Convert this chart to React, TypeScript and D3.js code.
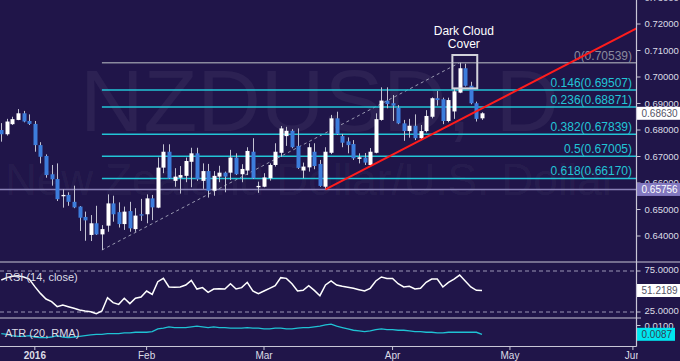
import React from "react";
import * as d3 from "d3";

// ---------- data ----------
const opens = [0.6800,0.6784,0.6822,0.6838,0.6863,0.6834,0.6823,0.6743,0.6702,0.6633,0.6615,0.6550,0.6555,0.6529,0.6511,0.6472,0.6404,0.6448,0.6406,0.6439,0.6523,0.6490,0.6445,0.6494,0.6426,0.6482,0.6482,0.6542,0.6507,0.6658,0.6718,0.6608,0.6620,0.6627,0.6680,0.6712,0.6608,0.6645,0.6571,0.6624,0.6639,0.6639,0.6696,0.6633,0.6647,0.6718,0.6584,0.6586,0.6618,0.6668,0.6714,0.6777,0.6797,0.6740,0.6647,0.6659,0.6718,0.6672,0.6586,0.6714,0.6844,0.6777,0.6757,0.6747,0.6691,0.6696,0.6668,0.6714,0.6838,0.6911,0.6901,0.6884,0.6825,0.6796,0.6816,0.6769,0.6796,0.6850,0.6920,0.6916,0.6834,0.6870,0.6941,0.7033,0.6967,0.6901,0.6844];
const highs = [0.6826,0.6842,0.6850,0.6879,0.6872,0.6859,0.6834,0.6754,0.6708,0.6668,0.6674,0.6576,0.6565,0.6590,0.6513,0.6492,0.6479,0.6514,0.6441,0.6557,0.6552,0.6527,0.6511,0.6529,0.6505,0.6540,0.6557,0.6555,0.6696,0.6746,0.6746,0.6656,0.6664,0.6696,0.6733,0.6733,0.6674,0.6672,0.6645,0.6665,0.6643,0.6725,0.6712,0.6671,0.6735,0.6769,0.6605,0.6637,0.6674,0.6750,0.6815,0.6812,0.6803,0.6806,0.6677,0.6750,0.6750,0.6687,0.6735,0.6857,0.6869,0.6785,0.6772,0.6762,0.6712,0.6713,0.6732,0.6863,0.6961,0.6961,0.6932,0.6894,0.6838,0.6842,0.6859,0.6819,0.6875,0.6923,0.6947,0.6922,0.6922,0.6955,0.70539,0.7050,0.6982,0.6907,0.6867];
const lows = [0.6756,0.6779,0.6819,0.6837,0.6829,0.6819,0.6718,0.6674,0.6620,0.6590,0.6532,0.6507,0.6514,0.6505,0.6419,0.6382,0.6381,0.6404,0.63471,0.6416,0.6454,0.6432,0.6423,0.6416,0.6416,0.6457,0.6448,0.6460,0.6505,0.6637,0.6615,0.6586,0.6560,0.6603,0.6584,0.6608,0.6578,0.6545,0.6552,0.6603,0.6565,0.6611,0.6630,0.6603,0.6630,0.6615,0.6563,0.6584,0.6609,0.6662,0.6699,0.6740,0.6731,0.6653,0.6618,0.6643,0.6652,0.6586,0.65756,0.6709,0.6781,0.6735,0.6712,0.6687,0.6674,0.6668,0.6664,0.6712,0.6835,0.6882,0.6834,0.6822,0.6759,0.6771,0.6762,0.6766,0.6791,0.6844,0.6892,0.6822,0.6829,0.6842,0.6939,0.6964,0.6897,0.6832,0.6838];
const closes = [0.6784,0.6832,0.6841,0.6863,0.6832,0.6823,0.6743,0.6699,0.6630,0.6614,0.6539,0.6555,0.6529,0.6508,0.6469,0.6459,0.6448,0.6406,0.6426,0.6523,0.6482,0.6445,0.6492,0.6429,0.6477,0.6477,0.6542,0.6508,0.6658,0.6718,0.6618,0.6624,0.6630,0.6683,0.6712,0.6614,0.6645,0.6571,0.6627,0.6639,0.6624,0.6696,0.6633,0.6653,0.6721,0.6618,0.6589,0.6621,0.6668,0.6718,0.6806,0.6797,0.6735,0.6657,0.6662,0.6735,0.6664,0.6589,0.6718,0.6844,0.6785,0.6752,0.6743,0.6693,0.6697,0.6677,0.6718,0.6841,0.6911,0.6898,0.6892,0.6825,0.6796,0.6816,0.6769,0.6796,0.6853,0.6920,0.6913,0.6834,0.6913,0.6946,0.7033,0.6967,0.6901,0.6842,0.6863];
const rsiValues = [64.0,66.9,68.5,69.3,67.7,65.2,55.9,47.7,40.8,37.6,31.5,33.5,31.5,29.5,27.4,26.2,25.4,23.0,26.2,42.5,36.4,34.3,41.7,35.2,41.7,43.3,50.6,46.5,62.0,66.0,55.5,55.1,55.5,57.9,63.6,53.0,54.7,49.0,53.0,53.4,53.0,59.5,53.0,54.7,61.2,50.6,47.3,50.6,53.9,57.1,66.9,66.0,59.5,50.6,51.4,57.1,51.4,44.9,57.9,63.0,57.9,56.3,55.1,53.9,52.2,50.6,53.9,62.8,67.7,66.0,66.0,59.5,55.5,56.3,53.0,53.9,61.2,65.2,65.2,55.5,61.2,65.2,70.1,62.8,55.5,51.4,51.2189];
const atrValues = [0.0088,0.0087,0.0085,0.0084,0.0084,0.0085,0.0083,0.0082,0.0082,0.0083,0.0085,0.0083,0.0082,0.0083,0.0084,0.0085,0.0086,0.0087,0.0087,0.0088,0.0088,0.0088,0.0089,0.0089,0.0090,0.0090,0.0090,0.0091,0.0095,0.0096,0.0098,0.0097,0.0097,0.0097,0.0098,0.0099,0.0098,0.0097,0.0098,0.0097,0.0097,0.0096,0.0096,0.0096,0.0097,0.0096,0.0096,0.0095,0.0095,0.0096,0.0096,0.0095,0.0095,0.0096,0.0097,0.0097,0.0098,0.0099,0.0101,0.0102,0.0099,0.0097,0.0095,0.0093,0.0092,0.0091,0.0092,0.0094,0.0095,0.0094,0.0094,0.0093,0.0093,0.0092,0.0091,0.0091,0.0090,0.0090,0.0089,0.0089,0.0090,0.0090,0.0090,0.0090,0.0090,0.0090,0.0087];

const priceTicks = [0.64,0.65,0.66,0.67,0.68,0.69,0.70,0.71,0.72,0.73];
const rsiTicks = [25, 75];
const atrTicks = [0.01];
const monthLabels = ["2016","Feb","Mar","Apr","May","Jun"];
const monthIndex = [6,26,47,70,91,113];

const fibLevels = ["0","0.146","0.236","0.382","0.5","0.618"];
const fibPrices = [0.70539,0.69507,0.68871,0.67839,0.67005,0.66170];
const fibFrom = { index: 18, price: 0.63471 };
const fibTo = { index: 82, price: 0.70539 };
const supportLevel = 0.65756;
const lastPrice = 0.68630;
const trendFrom = { index: 58, price: 0.65756 };
const trendTo = { index: 114, price: 0.7187 };
const patternBox = { from: 80.7, to: 85.15, top: 0.7083, bottom: 0.6957 };
const patternLabel = ["Dark Cloud", "Cover"];
const symbolTitle = "NZDUSD, D";
const symbolName = "New Zealand Dollar/U.S. Dollar";

// ---------- layout ----------
const W = 680, H = 361;
const AX = 636.5;
const PRICE_BOTTOM = 262;
const RSI_BOTTOM = 318;
const ATR_BOTTOM = 346.5;
const FONT = "'Liberation Sans', Arial, sans-serif";
const AXIS_FS = 9.5;

const C = {
  bg: "#201549",
  up: "#ffffff",
  down: "#3d7ddc",
  wick: "#c2c2d2",
  fib: "#22c4d6",
  fibZero: "#8a8a9e",
  support: "#8a82b8",
  axis: "#c8c6d6",
  text: "#dcdce6",
  dash: "#9a96b6",
  red: "#ff1c1c",
  atr: "#1fc2d4",
};

export default function App() {
  const x = d3.scaleLinear().domain([0, 86]).range([1.3, 482]);
  const y = d3.scaleLinear().domain([0.64, 0.72]).range([236, 24]);
  const yR = d3.scaleLinear().domain([25, 75]).range([312, 271]);
  const yA = d3.scaleLinear().domain([0.0087, 0.01]).range([334.3, 325.5]);
  const fmt5 = d3.format(".5f");
  const fmt4 = d3.format(".4f");

  const rsiLine = d3.line<number>().x((_, i) => x(i)).y((d) => yR(d))(rsiValues) || "";
  const atrLine = d3.line<number>().x((_, i) => x(i)).y((d) => yA(d))(atrValues) || "";

  const tx1 = x(trendFrom.index), ty1 = y(trendFrom.price);
  const tx2 = x(trendTo.index), ty2 = y(trendTo.price);

  const axisLabel = (cy: number, txt: string, bg: string, fg: string, w = 43) => (
    <g>
      <rect x={AX + 0.5} y={cy - 6.5} width={w} height={13} fill={bg} />
      <text x={AX + 5} y={cy} dy="0.35em" fontSize={10} fill={fg} fontFamily={FONT}>{txt}</text>
    </g>
  );

  return (
    <svg width={W} height={H} style={{ position: "absolute", left: 0, top: 0 }} xmlns="http://www.w3.org/2000/svg">
      <defs>
        <clipPath id="pricePlot"><rect x={0} y={0} width={AX} height={PRICE_BOTTOM} /></clipPath>
        <clipPath id="priceAxis"><rect x={AX} y={0} width={W - AX} height={PRICE_BOTTOM} /></clipPath>
        <clipPath id="rsiAxis"><rect x={AX} y={PRICE_BOTTOM} width={W - AX} height={RSI_BOTTOM - PRICE_BOTTOM} /></clipPath>
        <clipPath id="timeAxis"><rect x={0} y={ATR_BOTTOM} width={638} height={H - ATR_BOTTOM} /></clipPath>
      </defs>
      <rect x={0} y={0} width={W} height={H} fill={C.bg} />

      {/* watermark */}
      <g fontFamily={FONT} fill="rgba(255,255,255,0.055)">
        <text x={80} y={131} fontSize={88}>{symbolTitle}</text>
        <text x={5} y={195} fontSize={44}>{symbolName}</text>
      </g>

      <g clipPath="url(#pricePlot)">
        <line x1={0} x2={AX} y1={y(supportLevel)} y2={y(supportLevel)} stroke={C.support} strokeWidth={1.5} />
        <line x1={x(fibFrom.index)} y1={y(fibFrom.price)} x2={x(fibTo.index)} y2={y(fibTo.price)}
          stroke="#9a9ab2" strokeWidth={1} strokeDasharray="3,3" />
        {fibPrices.map((p, i) => (
          <g key={"fib" + i}>
            <line x1={x(fibFrom.index)} x2={AX} y1={y(p)} y2={y(p)}
              stroke={i === 0 ? C.fibZero : C.fib} strokeWidth={1.5} />
            <text x={632} y={y(p) - 3} textAnchor="end" fontSize={12} fontFamily={FONT}
              fill={i === 0 ? C.fibZero : C.fib}>{`${fibLevels[i]}(${fmt5(p)})`}</text>
          </g>
        ))}

        {opens.map((o, i) => {
          const c = closes[i];
          const up = c >= o;
          const cx = Math.round(x(i));
          const top = y(Math.max(o, c));
          const bot = y(Math.min(o, c));
          return (
            <g key={"c" + i}>
              <line x1={cx + 0.5} x2={cx + 0.5} y1={y(highs[i])} y2={y(lows[i])} stroke={C.wick} strokeWidth={1} />
              <rect x={cx - 1.5} y={top} width={4} height={Math.max(1.2, bot - top)} fill={up ? C.up : C.down} />
            </g>
          );
        })}

        <line x1={tx1} y1={ty1} x2={tx2} y2={ty2} stroke={C.red} strokeWidth={2} />

        <rect x={x(patternBox.from)} y={y(patternBox.top)} width={x(patternBox.to) - x(patternBox.from)}
          height={y(patternBox.bottom) - y(patternBox.top)} fill="none" stroke="#d2d2da" strokeWidth={2} />
        <g fontFamily={FONT} fontSize={12} fill="#ffffff" textAnchor="middle">
          <text x={(x(patternBox.from) + x(patternBox.to)) / 2 - 1} y={34.5}>{patternLabel[0]}</text>
          <text x={(x(patternBox.from) + x(patternBox.to)) / 2 - 1} y={48}>{patternLabel[1]}</text>
        </g>
      </g>

      {/* price axis */}
      <g clipPath="url(#priceAxis)" fontFamily={FONT} fontSize={AXIS_FS} fill={C.text}>
        {priceTicks.map((t) => (
          <g key={"pt" + t}>
            <line x1={AX} x2={AX + 4} y1={y(t)} y2={y(t)} stroke={C.axis} />
            <text x={AX + 8} y={y(t)} dy="0.35em">{fmt5(t)}</text>
          </g>
        ))}
        {axisLabel(y(lastPrice), fmt5(lastPrice), "#ffffff", "#555566")}
        {axisLabel(y(supportLevel), fmt5(supportLevel), "#8278c0", "#ffffff")}
      </g>

      {/* RSI panel */}
      <line x1={0} x2={W} y1={PRICE_BOTTOM} y2={PRICE_BOTTOM} stroke={C.axis} strokeWidth={1.2} />
      {rsiTicks.map((t) => (
        <line key={"rd" + t} x1={0} x2={AX} y1={yR(t)} y2={yR(t)} stroke={C.dash} strokeWidth={1} strokeDasharray="4,3" />
      ))}
      <path d={rsiLine} fill="none" stroke="#ffffff" strokeWidth={1.5} />
      <text x={5} y={281} fontSize={11} fontFamily={FONT} fill={C.text}>RSI (14, close)</text>
      <g clipPath="url(#rsiAxis)" fontFamily={FONT} fontSize={AXIS_FS} fill={C.text}>
        {rsiTicks.map((t) => (
          <g key={"rt" + t}>
            <line x1={AX} x2={AX + 4} y1={yR(t)} y2={yR(t)} stroke={C.axis} />
            <text x={AX + 8} y={yR(t) - 1.5} dy="0.35em">{fmt4(t)}</text>
          </g>
        ))}
        {axisLabel(yR(rsiValues[rsiValues.length - 1]), fmt4(rsiValues[rsiValues.length - 1]), "#ffffff", "#555566")}
      </g>

      {/* ATR panel */}
      <rect x={0} y={RSI_BOTTOM} width={AX} height={ATR_BOTTOM - RSI_BOTTOM} fill={C.bg} />
      <line x1={0} x2={641} y1={RSI_BOTTOM} y2={RSI_BOTTOM} stroke={C.axis} strokeWidth={1.2} />
      <path d={atrLine} fill="none" stroke={C.atr} strokeWidth={1.3} />
      <text x={5} y={337} fontSize={11} fontFamily={FONT} fill={C.text}>ATR (20, RMA)</text>
      <g fontFamily={FONT} fontSize={AXIS_FS} fill={C.text}>
        {atrTicks.map((t) => (
          <g key={"at" + t}>
            <line x1={AX} x2={AX + 4} y1={yA(t)} y2={yA(t)} stroke={C.axis} />
            <text x={AX + 8} y={yA(t)} dy="0.35em">{fmt4(t)}</text>
          </g>
        ))}
        {axisLabel(yA(atrValues[atrValues.length - 1]), fmt4(atrValues[atrValues.length - 1]), "#00e6f0", "#334455", 38)}
      </g>

      {/* bottom axis */}
      <line x1={0} x2={AX} y1={ATR_BOTTOM} y2={ATR_BOTTOM} stroke={C.axis} strokeWidth={1.2} />
      <line x1={AX} x2={AX} y1={0} y2={ATR_BOTTOM} stroke={C.axis} strokeWidth={1.2} />
      <g clipPath="url(#timeAxis)" fontFamily={FONT} fontSize={10} fill={C.text} textAnchor="middle">
        {monthIndex.map((m, i) => (
          <g key={"m" + i}>
            <line x1={x(m)} x2={x(m)} y1={ATR_BOTTOM} y2={ATR_BOTTOM + 3.5} stroke={C.axis} />
            <text x={x(m)} y={359} fontWeight={i === 0 ? "bold" : "normal"}>{monthLabels[i]}</text>
          </g>
        ))}
      </g>
    </svg>
  );
}
